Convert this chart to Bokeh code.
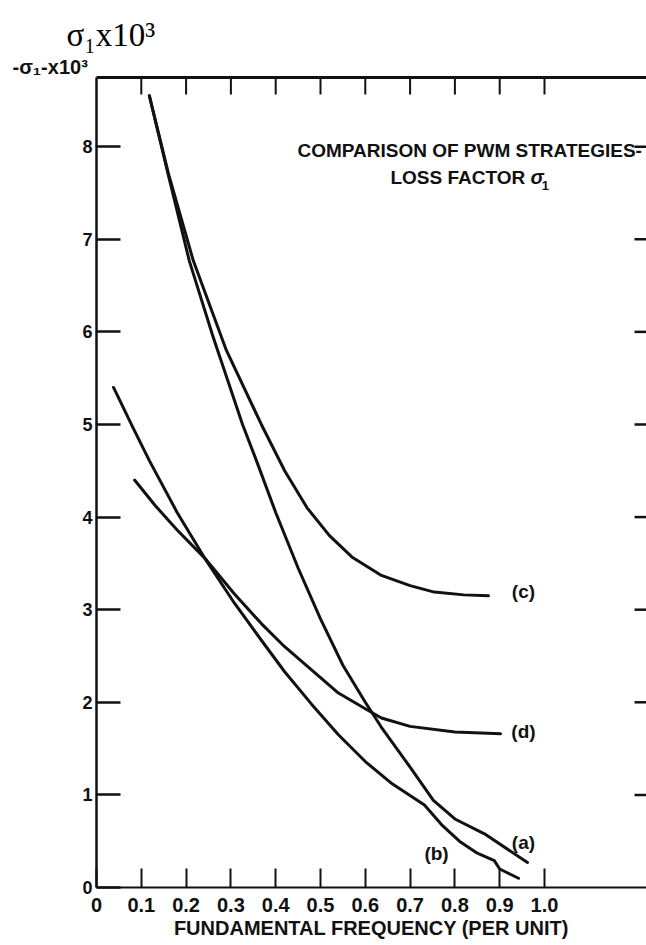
import math
from bokeh.plotting import figure
from bokeh.models import Range1d, LinearAxis, FixedTicker, Label, Title
from bokeh.embed import file_html
from bokeh.resources import INLINE

# ---- data ----
a_x = [0.118, 0.16, 0.207, 0.26, 0.326, 0.357, 0.40, 0.45, 0.50, 0.55, 0.60, 0.636, 0.70, 0.752, 0.80, 0.866, 0.962]
a_y = [8.55, 7.70, 6.77, 5.95, 5.00, 4.61, 4.05, 3.45, 2.90, 2.40, 2.00, 1.73, 1.30, 0.94, 0.74, 0.58, 0.27]

b_x = [0.038, 0.08, 0.118, 0.18, 0.241, 0.308, 0.368, 0.42, 0.48, 0.54, 0.60, 0.66, 0.732, 0.77, 0.81, 0.85, 0.888, 0.90, 0.942]
b_y = [5.40, 4.98, 4.61, 4.05, 3.56, 3.07, 2.67, 2.33, 1.98, 1.65, 1.36, 1.12, 0.89, 0.68, 0.50, 0.37, 0.29, 0.20, 0.10]

c_x = [0.118, 0.16, 0.216, 0.29, 0.368, 0.42, 0.47, 0.52, 0.57, 0.636, 0.70, 0.754, 0.82, 0.875]
c_y = [8.55, 7.72, 6.77, 5.80, 5.00, 4.50, 4.10, 3.80, 3.57, 3.37, 3.26, 3.19, 3.16, 3.15]

d_x = [0.085, 0.13, 0.18, 0.241, 0.308, 0.368, 0.42, 0.48, 0.54, 0.60, 0.636, 0.70, 0.80, 0.902]
d_y = [4.40, 4.13, 3.86, 3.56, 3.17, 2.85, 2.60, 2.35, 2.10, 1.93, 1.83, 1.74, 1.68, 1.66]

curve_labels = ["(a)", "(b)", "(c)", "(d)"]
label_x = [0.953, 0.759, 0.953, 0.953]
label_y = [0.49, 0.37, 3.20, 1.68]

x_ticks = [0, 0.1, 0.2, 0.3, 0.4, 0.5, 0.6, 0.7, 0.8, 0.9, 1.0]
y_ticks = [0, 1, 2, 3, 4, 5, 6, 7, 8]

title_line1 = "COMPARISON OF PWM STRATEGIES-"
title_line2 = "LOSS FACTOR "
x_title = "FUNDAMENTAL FREQUENCY (PER UNIT)"
y_title = "σ₁x10³"
y_caption = "-σ₁-x10³"

SANS = "Liberation Sans"
SERIF = "Liberation Serif"
INK = "#111111"

X_END = 1.2277
Y_END = 8.747

p = figure(width=646, height=945, output_backend="svg", toolbar_location=None, title=None,
           x_range=Range1d(0, X_END), y_range=Range1d(0, Y_END),
           min_border_left=96, min_border_right=0, min_border_top=77, min_border_bottom=58,
           background_fill_color="white", border_fill_color="white")
p.grid.visible = False
p.outline_line_color = None

# bottom axis
xa = p.xaxis[0]
xa.ticker = FixedTicker(ticks=x_ticks)
xa.major_label_overrides = {0: "0", 1.0: "1.0"}
xa.major_tick_in = 19
xa.major_tick_out = 0
xa.minor_tick_line_color = None
xa.axis_line_width = 2
xa.axis_line_color = INK
xa.major_tick_line_width = 2
xa.major_tick_line_color = INK
xa.major_label_text_font = SANS
xa.major_label_text_font_style = "bold"
xa.major_label_text_font_size = "20px"
xa.major_label_text_color = INK
xa.major_label_standoff = 10
xa.axis_label = x_title
xa.axis_label_text_font = SANS
xa.axis_label_text_font_style = "bold"
xa.axis_label_text_font_size = "20px"
xa.axis_label_text_color = INK
xa.axis_label_standoff = 2

# left axis
ya = p.yaxis[0]
ya.ticker = FixedTicker(ticks=y_ticks)
ya.major_tick_in = 24
ya.major_tick_out = 0
ya.minor_tick_line_color = None
ya.axis_line_width = 2.5
ya.axis_line_color = INK
ya.major_tick_line_width = 2.5
ya.major_tick_line_color = INK
ya.major_label_text_font = SANS
ya.major_label_text_font_style = "bold"
ya.major_label_text_font_size = "18px"
ya.major_label_text_color = INK
ya.major_label_standoff = 4

# top frame line (no ticks of its own)
top = LinearAxis(ticker=FixedTicker(ticks=[]), minor_tick_line_color=None,
                 axis_line_width=3, axis_line_color=INK)
p.add_layout(top, "above")

# y-axis captions above the frame
p.add_layout(Title(text=y_caption, align="left", offset=-84, standoff=0,
                   text_font=SANS, text_font_style="bold", text_font_size="20px",
                   text_color=INK), "above")
p.add_layout(Title(text=y_title, align="left", offset=-30, standoff=2,
                   text_font=SERIF, text_font_style="normal", text_font_size="33px",
                   text_color="black"), "above")

# inward tick marks on top and right edges
p.ray(x=x_ticks[1:], y=Y_END, length=17, length_units="screen", angle=-math.pi / 2,
      line_width=2, line_color=INK)
p.ray(x=X_END, y=y_ticks[1:], length=12, length_units="screen", angle=math.pi,
      line_width=2.5, line_color=INK)

# curves
for xs, ys in [(a_x, a_y), (b_x, b_y), (c_x, c_y), (d_x, d_y)]:
    p.line(xs, ys, line_width=3, line_color=INK, line_join="round", line_cap="round")

for t, lx, ly in zip(curve_labels, label_x, label_y):
    p.add_layout(Label(x=lx, y=ly, text=t, text_font=SANS, text_font_style="bold",
                       text_font_size="19px", text_align="center", text_baseline="middle",
                       text_color=INK))

# in-plot title
p.add_layout(Label(x=0.833, y=7.96, text=title_line1, text_font=SANS, text_font_style="bold",
                   text_font_size="19px", text_align="center", text_baseline="middle", text_color=INK))
p.add_layout(Label(x=0.656, y=7.67, text=title_line2, text_font=SANS, text_font_style="bold",
                   text_font_size="19px", text_align="left", text_baseline="middle", text_color=INK))
p.add_layout(Label(x=0.969, y=7.67, text="σ", text_font=SANS, text_font_style="bold italic",
                   text_font_size="20px", text_align="left", text_baseline="middle", text_color=INK))
p.add_layout(Label(x=0.994, y=7.58, text="1", text_font=SANS, text_font_style="bold",
                   text_font_size="13px", text_align="left", text_baseline="middle", text_color=INK))

open("out.html", "w").write(file_html(p, INLINE))
